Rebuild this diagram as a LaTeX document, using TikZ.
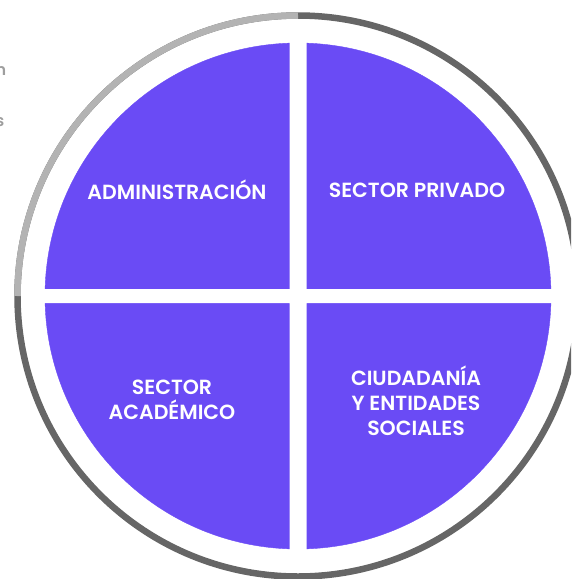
\documentclass[tikz,border=0pt]{standalone}
\usepackage{fontspec}
\setmainfont{Poppins}[UprightFont=* SemiBold]
\definecolor{quadpurple}{HTML}{6A4BF5}
\definecolor{ringlight}{HTML}{B3B3B3}
\definecolor{ringdark}{HTML}{666666}
\definecolor{sidegray}{HTML}{9E9E9E}
\begin{document}
\begin{tikzpicture}[x=1pt, y=-1pt,
  quadtext/.style={text=white, align=center, font=\fontsize{20.5}{25}\selectfont},
  sidetext/.style={text=sidegray, anchor=west, inner sep=0pt, font=\fontsize{16}{18}\selectfont}]
\useasboundingbox (0,0) rectangle (571,579);
\clip (0,0) rectangle (571,579);

% outer ring
\draw [ringdark, line width=6.5pt] (298,296) circle (280.5);
\draw [ringlight, line width=6.5pt] (17.5,296) arc (180:270:280.5);

% purple disk and white gaps
\filldraw [fill=quadpurple, draw=quadpurple] (298,296) circle (253);
\fill [white] (289.5,30) rectangle (306.5,560)
(30,289) rectangle (566,303);

\node[quadtext] (admin) at (177,190) {ADMINISTRACIÓN};
\node[quadtext] (privado) at (417,190) {SECTOR PRIVADO};
\node[quadtext] (academico) at (172,400) {SECTOR\\ACADÉMICO};
\node[quadtext] (ciudadania) at (416,401) {CIUDADANÍA\\Y ENTIDADES\\SOCIALES};

% cut-off text at the left edge
\node[sidetext] (sidea) at (-4.5,71) {n};
\node[sidetext] (sideb) at (-4.5,122) {s};

\end{tikzpicture}
\end{document}
